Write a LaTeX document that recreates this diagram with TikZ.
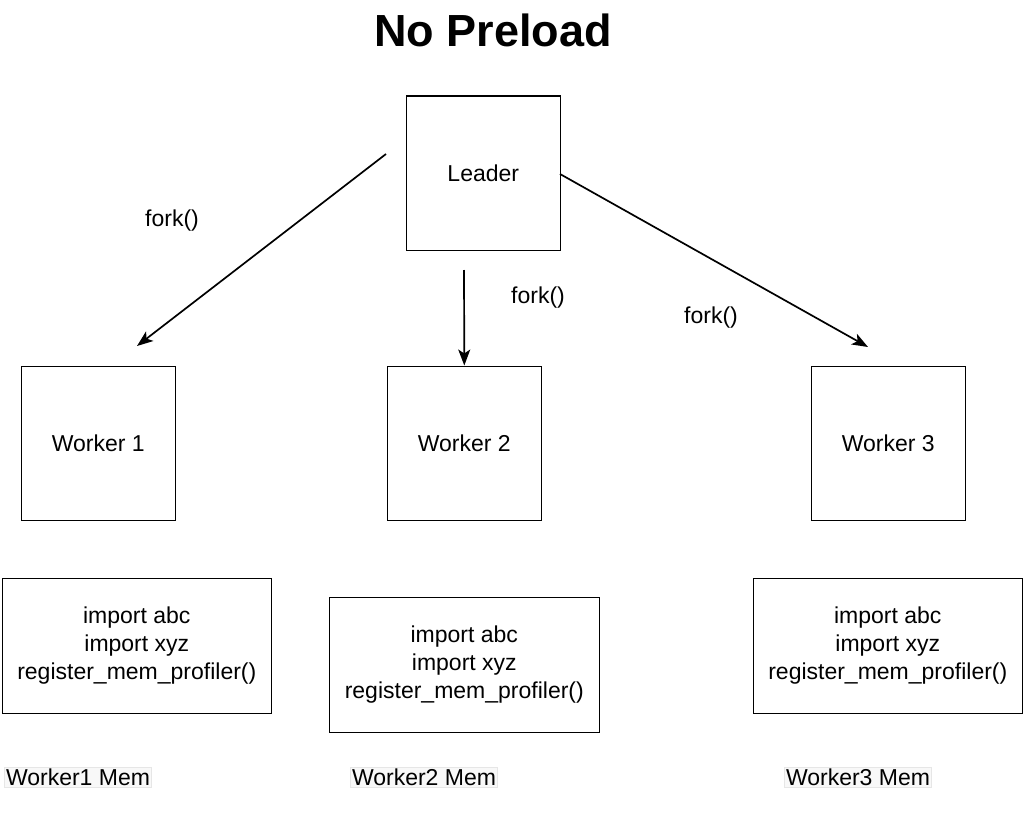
\documentclass[tikz,border=0pt]{standalone}
\usepackage{fontspec}
\setmainfont{Liberation Sans}
\usetikzlibrary{arrows.meta}
\definecolor{membg}{HTML}{F8F8F8}
\definecolor{memline}{HTML}{E6E6E6}
\begin{document}
\begin{tikzpicture}[x=1pt,y=-1pt,
  box/.style={draw=black,line width=1.6pt,inner sep=0pt,anchor=north west,align=center,font=\fontsize{23}{28}\selectfont},
  lbl/.style={inner sep=0pt,font=\fontsize{23}{28}\selectfont},
  memlbl/.style={fill=membg,draw=memline,line width=0.6pt,inner sep=1.5pt,font=\fontsize{23}{28}\selectfont},
  conn/.style={line width=1.7pt,-{Stealth[length=16pt,width=12pt,inset=4pt]}}]
\useasboundingbox (0,0) rectangle (1024,829);
\fill[white] (0,0) rectangle (1024,829);
\node[font=\bfseries\fontsize{45}{50}\selectfont] (title) at (493,30) {No Preload};
\node[box,minimum width=154pt,minimum height=154pt] (leader) at (405.5,95.5) {Leader};
\node[box,minimum width=154pt,minimum height=154pt] (w1) at (20.5,365.5) {Worker 1};
\node[box,minimum width=154pt,minimum height=154pt] (w2) at (386.5,365.5) {Worker 2};
\node[box,minimum width=154pt,minimum height=154pt] (w3) at (810.5,365.5) {Worker 3};
\node[box,minimum width=269pt,minimum height=135pt] (m1) at (1.5,577.5) {import abc\\import xyz\\register\_mem\_profiler()};
\node[box,minimum width=270pt,minimum height=135pt] (m2) at (328.5,596.5) {import abc\\import xyz\\register\_mem\_profiler()};
\node[box,minimum width=269pt,minimum height=135pt] (m3) at (752.5,577.5) {import abc\\import xyz\\register\_mem\_profiler()};
\node[memlbl] (l1) at (78,777) {Worker1 Mem};
\node[memlbl] (l2) at (424,777) {Worker2 Mem};
\node[memlbl] (l3) at (858,777) {Worker3 Mem};
\coordinate (s1) at (386,154);
\coordinate (e1) at (137,346);
\coordinate (s2) at (464,270);
\coordinate (s3) at (560,174);
\coordinate (e3) at (868,347);
\draw[conn] (s1) -- (e1);
\draw[conn] (s2) -- (w2.north);
\draw[conn] (s3) -- (e3);
\node[lbl] (f1) at (172,221) {fork()};
\node[lbl] (f2) at (538,298) {fork()};
\node[lbl] (f3) at (711,318) {fork()};
\end{tikzpicture}
\end{document}
